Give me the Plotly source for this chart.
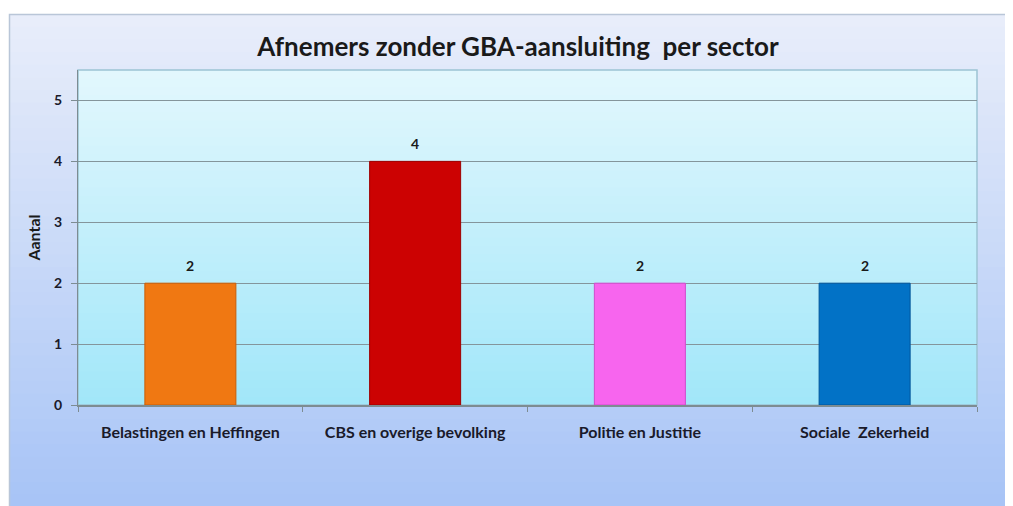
import plotly.graph_objects as go

sectors = ["Belastingen en Heffingen", "CBS en overige bevolking", "Politie en Justitie", "Sociale  Zekerheid"]
aantal = [2, 4, 2, 2]
bar_colors = ["#f07812", "#cc0202", "#f765ee", "#0272c6"]
line_colors = ["#c85e08", "#9e0000", "#d04ccc", "#02559a"]
y_ticks = [0, 1, 2, 3, 4, 5]


def mix(c1, c2, t):
    a = [int(c1[i:i + 2], 16) for i in (1, 3, 5)]
    b = [int(c2[i:i + 2], 16) for i in (1, 3, 5)]
    return "#" + "".join("%02x" % round(a[k] + (b[k] - a[k]) * t) for k in range(3))


# page body adds an 8px margin, so lay out in shifted coordinates
O = 8
W, H = 1013 - O, 506 - O
L, R, T, B = 78 - O, 977 - O, 70 - O, 405 - O


def px(x):
    return (x - O - L) / (R - L)


def py(y):
    return (B - (y - O)) / (B - T)


shapes = []

# outer chart area gradient
n = 40
top, bottom = 14, 520
for i in range(n):
    y0 = top + (bottom - top) * i / n
    y1 = top + (bottom - top) * (i + 1) / n + 2
    shapes.append(dict(
        type="rect", xref="paper", yref="paper",
        x0=px(9), x1=px(1040), y0=py(min(y1, bottom)), y1=py(y0),
        fillcolor=mix("#e8edfa", "#a6c3f6", i / (n - 1)),
        line_width=0, layer="below"
    ))
shapes.append(dict(
    type="rect", xref="paper", yref="paper",
    x0=px(9.5), x1=px(1040), y0=py(520), y1=py(14.5),
    line=dict(color="#b9c6d8", width=1.5), layer="below"
))

# plot area gradient
for i in range(n):
    y0 = 70 + (405 - 70) * i / n
    y1 = 70 + (405 - 70) * (i + 1) / n + 1.5
    shapes.append(dict(
        type="rect", xref="paper", yref="paper",
        x0=0, x1=1, y0=max(py(y1), 0), y1=py(y0),
        fillcolor=mix("#e2f7fd", "#a2e7f9", i / (n - 1)),
        line_width=0, layer="below"
    ))
shapes.append(dict(
    type="rect", xref="paper", yref="paper",
    x0=0, x1=1, y0=0, y1=1,
    line=dict(color="#9cc4d4", width=1.5), layer="below"
))

fig = go.Figure()

fig.add_trace(go.Bar(
    x=sectors,
    y=aantal,
    width=0.405,
    marker=dict(color=bar_colors, line=dict(color=line_colors, width=1)),
    hoverinfo="x+y"
))

for s, v in zip(sectors, aantal):
    fig.add_annotation(
        x=s, y=v, text="<b>%d</b>" % v, showarrow=False,
        yanchor="middle", yshift=18,
        font=dict(family="Lato", size=14, color="#1a1a1a")
    )

fig.update_layout(
    width=W,
    height=H,
    margin=dict(l=L, r=W - R, t=T, b=H - B),
    paper_bgcolor="white",
    plot_bgcolor="rgba(0,0,0,0)",
    showlegend=False,
    shapes=shapes,
    title=dict(
        text="<b>Afnemers zonder GBA-aansluiting\u00a0 per sector</b>",
        x=(518 - O) / W, xanchor="center", y=1 - (47 - O) / H, yanchor="middle",
        font=dict(family="Lato", size=26, color="#1a1a1a")
    ),
    font=dict(family="Lato", color="#1a1a2a")
)

fig.update_xaxes(
    tickfont=dict(family="Lato", size=16, color="#1a1a2a", weight="bold"),
    showline=True, linecolor="#7d8c92", linewidth=1.5,
    ticks="outside", ticklen=5, tickcolor="#7d8c92",
    tickson="boundaries", ticklabelstandoff=12,
    showgrid=False
)

fig.update_yaxes(
    range=[0, 5.5],
    tickvals=y_ticks,
    tickfont=dict(family="Lato", size=14, color="#1a1a2a", weight="bold"),
    ticklabelstandoff=6,
    title=dict(text="<b>Aantal</b>", font=dict(family="Lato", size=16, color="#1a1a1a"), standoff=9),
    showgrid=True, gridcolor="#84959b", gridwidth=1,
    showline=True, linecolor="#7d8c92", linewidth=1,
    ticks="outside", ticklen=6, tickcolor="#7d8c92",
    zeroline=False
)

fig.write_html("out.html")
